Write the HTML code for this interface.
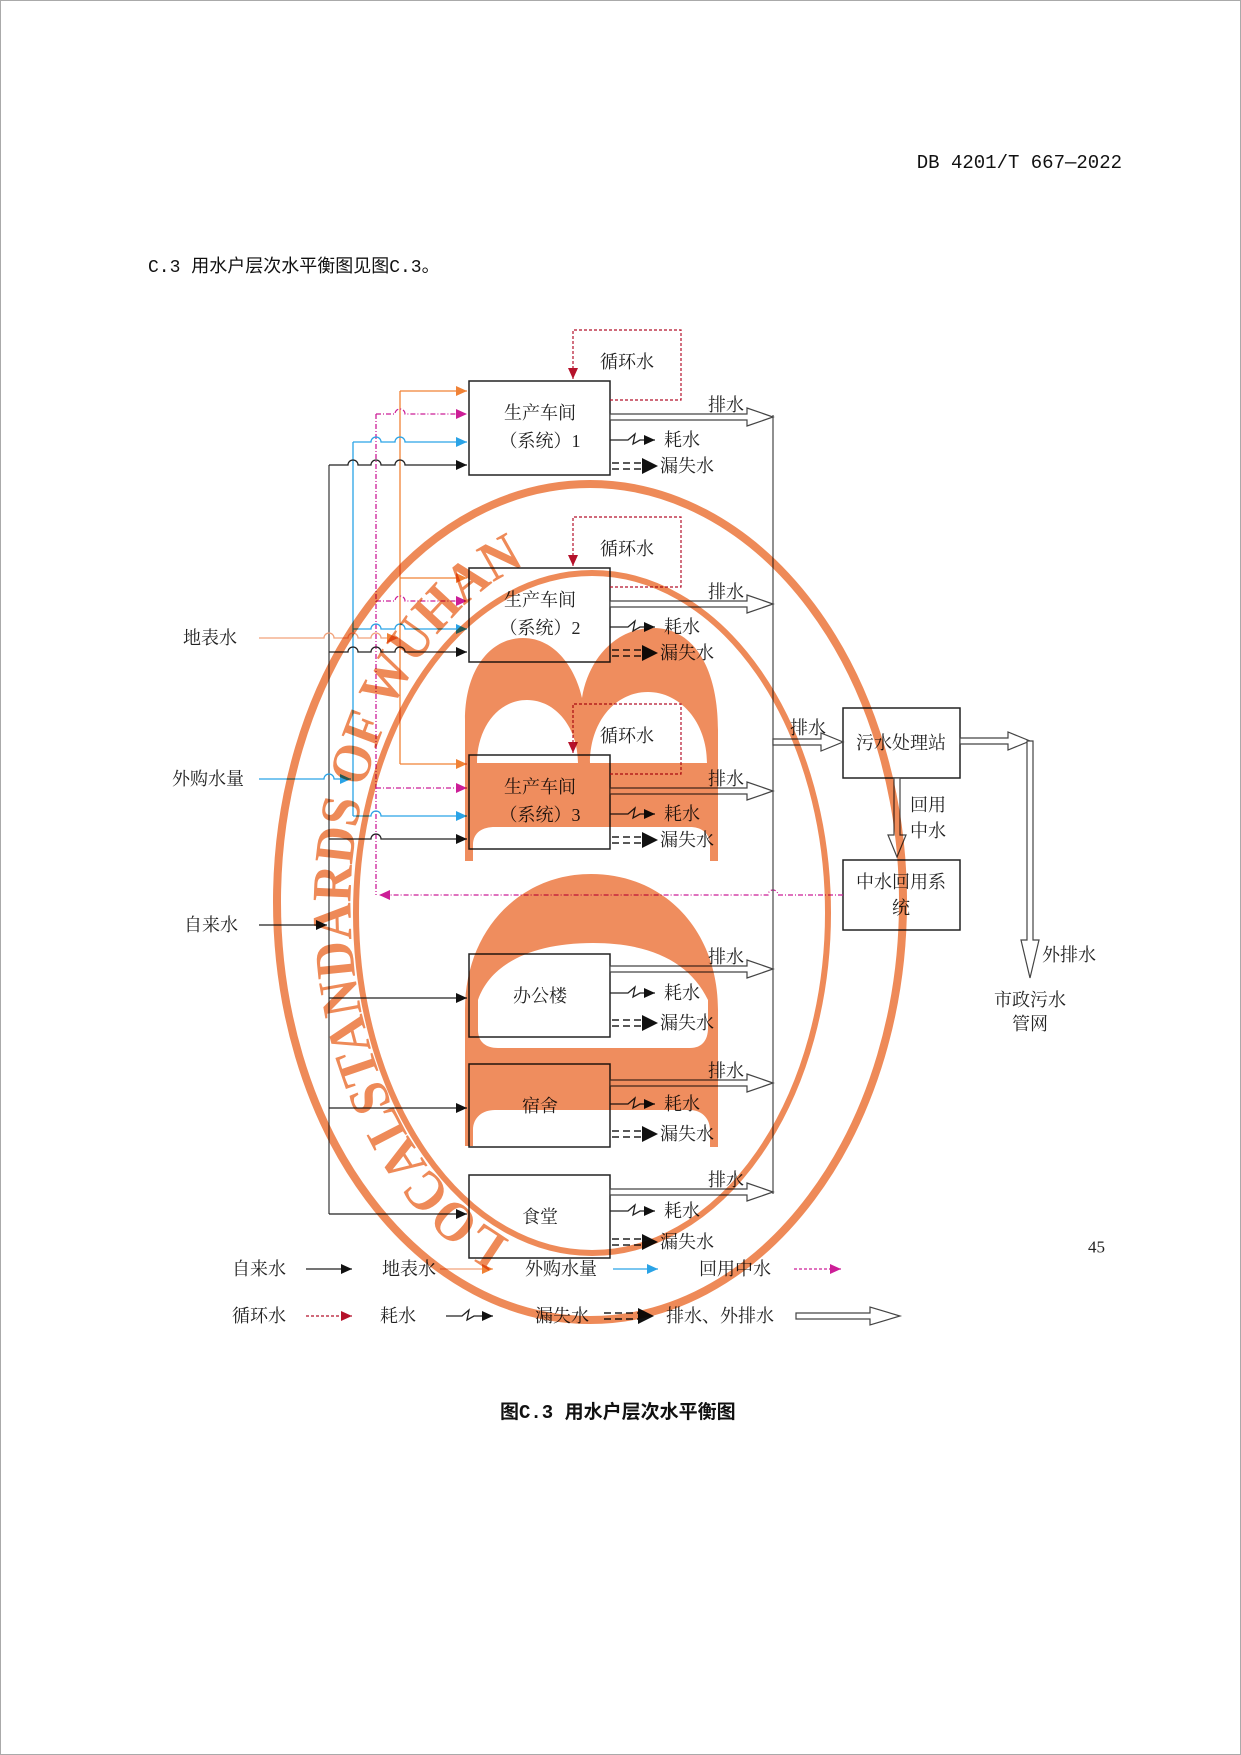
<!DOCTYPE html>
<html><head><meta charset="utf-8">
<style>
html,body{margin:0;padding:0;background:#fff;}
svg{display:block;}
.t{font-family:"Liberation Serif","Noto Serif CJK SC",serif;font-size:18px;fill:#222;dominant-baseline:central;}
</style></head>
<body>
<svg width="1241" height="1755" viewBox="0 0 1241 1755" xmlns="http://www.w3.org/2000/svg">
<defs>
<marker id="mk" markerUnits="userSpaceOnUse" markerWidth="12" markerHeight="10" refX="11" refY="5" orient="auto"><path d="M0,0 L11,5 L0,10 Z" fill="#111"/></marker>
<marker id="mo" markerUnits="userSpaceOnUse" markerWidth="12" markerHeight="10" refX="11" refY="5" orient="auto"><path d="M0,0 L11,5 L0,10 Z" fill="#F08236"/></marker>
<marker id="mb" markerUnits="userSpaceOnUse" markerWidth="12" markerHeight="10" refX="11" refY="5" orient="auto"><path d="M0,0 L11,5 L0,10 Z" fill="#2AA3E6"/></marker>
<marker id="mm" markerUnits="userSpaceOnUse" markerWidth="12" markerHeight="10" refX="11" refY="5" orient="auto"><path d="M0,0 L11,5 L0,10 Z" fill="#CC1E97"/></marker>
<marker id="mr" markerUnits="userSpaceOnUse" markerWidth="12" markerHeight="10" refX="11" refY="5" orient="auto"><path d="M0,0 L11,5 L0,10 Z" fill="#B5122B"/></marker>
</defs>
<rect x="0.5" y="0.5" width="1240" height="1754" fill="#fff" stroke="#aaa"/>

<text x="1122" y="163" text-anchor="end" style="font-family:'Liberation Mono','Noto Sans CJK SC',monospace;font-size:19px;fill:#111;dominant-baseline:central">DB 4201/T 667—2022</text>
<text x="148" y="268" style="font-family:'Liberation Mono','Noto Sans CJK SC',monospace;font-size:18px;fill:#111;dominant-baseline:central">C.3  用水户层次水平衡图见图C.3。</text>

<g fill="#fff" stroke="#222" stroke-width="1.5">
<rect x="469" y="381" width="141" height="94"/>
<rect x="469" y="568" width="141" height="94"/>
<rect x="469" y="755" width="141" height="94"/>
<rect x="469" y="954" width="141" height="83"/>
<rect x="469" y="1064" width="141" height="83"/>
<rect x="469" y="1175" width="141" height="83"/>
<rect x="843" y="708" width="117" height="70"/>
<rect x="843" y="860" width="117" height="70"/>
</g>
<g class="t" text-anchor="middle">
<text class="t" x="540" y="413">生产车间</text><text class="t" x="540" y="441">（系统）1</text>
<text class="t" x="540" y="600">生产车间</text><text class="t" x="540" y="628">（系统）2</text>
<text class="t" x="540" y="787">生产车间</text><text class="t" x="540" y="815">（系统）3</text>
<text class="t" x="540" y="996">办公楼</text>
<text class="t" x="540" y="1106">宿舍</text>
<text class="t" x="540" y="1217">食堂</text>
<text class="t" x="901" y="743">污水处理站</text>
<text class="t" x="901" y="882">中水回用系</text>
<text class="t" x="901" y="908">统</text>
</g>

<g fill="none" stroke="#B5122B" stroke-width="1.2" stroke-dasharray="3,2">
<path d="M610,400 L681,400 L681,330 L573,330 L573,379" marker-end="url(#mr)"/>
<path d="M610,587 L681,587 L681,517 L573,517 L573,566" marker-end="url(#mr)"/>
<path d="M610,774 L681,774 L681,704 L573,704 L573,753" marker-end="url(#mr)"/>
</g>
<text class="t" x="600" y="362">循环水</text>
<text class="t" x="600" y="549">循环水</text>
<text class="t" x="600" y="736">循环水</text>

<g fill="none" stroke-width="1.3">
<path d="M329,465 L329,1214" stroke="#444"/>
<path d="M353,442 L353,816" stroke="#2AA3E6"/>
<path d="M376,414 L376,895" stroke="#CC1E97" stroke-dasharray="5,2,1,2"/>
<path d="M400,391 L400,764" stroke="#F08236"/>
</g>
<g fill="none" stroke="#F08236" stroke-width="1.3">
<path d="M400,391 L467,391" marker-end="url(#mo)"/>
<path d="M400,578 L467,578" marker-end="url(#mo)"/>
<path d="M400,764 L467,764" marker-end="url(#mo)"/>
<path d="M259,638 L324,638 A5 5 0 0 1 334,638 L348,638 A5 5 0 0 1 358,638 L371,638 A5 5 0 0 1 381,638 L398,638" marker-end="url(#mo)" stroke="#F2A27A"/>
</g>
<g fill="none" stroke="#CC1E97" stroke-width="1.2" stroke-dasharray="5,2,1,2">
<path d="M376,414 L395,414 A5 5 0 0 1 405,414 L467,414" marker-end="url(#mm)"/>
<path d="M376,601 L395,601 A5 5 0 0 1 405,601 L467,601" marker-end="url(#mm)"/>
<path d="M376,788 L467,788" marker-end="url(#mm)"/>
<path d="M843,895 L778,895 A5 5 0 0 0 768,895 L379,895" marker-end="url(#mm)"/>
</g>
<g fill="none" stroke="#2AA3E6" stroke-width="1.3">
<path d="M353,442 L371,442 A5 5 0 0 1 381,442 L395,442 A5 5 0 0 1 405,442 L467,442" marker-end="url(#mb)"/>
<path d="M353,629 L371,629 A5 5 0 0 1 381,629 L395,629 A5 5 0 0 1 405,629 L467,629" marker-end="url(#mb)"/>
<path d="M353,816 L371,816 A5 5 0 0 1 381,816 L467,816" marker-end="url(#mb)"/>
<path d="M259,779 L324,779 A5 5 0 0 1 334,779 L351,779" marker-end="url(#mb)"/>
</g>
<g fill="none" stroke="#222" stroke-width="1.3">
<path d="M329,465 L348,465 A5 5 0 0 1 358,465 L371,465 A5 5 0 0 1 381,465 L395,465 A5 5 0 0 1 405,465 L467,465" marker-end="url(#mk)"/>
<path d="M329,652 L348,652 A5 5 0 0 1 358,652 L371,652 A5 5 0 0 1 381,652 L395,652 A5 5 0 0 1 405,652 L467,652" marker-end="url(#mk)"/>
<path d="M329,839 L371,839 A5 5 0 0 1 381,839 L467,839" marker-end="url(#mk)"/>
<path d="M329,998 L467,998" marker-end="url(#mk)"/>
<path d="M329,1108 L467,1108" marker-end="url(#mk)"/>
<path d="M329,1214 L467,1214" marker-end="url(#mk)"/>
<path d="M259,925 L327,925" marker-end="url(#mk)"/>
<path d="M773,415 L773,1194" stroke="#555"/>
</g>
<text class="t" x="183" y="638">地表水</text>
<text class="t" x="172" y="779">外购水量</text>
<text class="t" x="184" y="925">自来水</text>

<g fill="#fff" stroke="#444" stroke-width="1.2">
<polygon points="610,414 747,414 747,408 773,417 747,426 747,420 610,420"/>
<polygon points="610,601 747,601 747,595 773,604 747,613 747,607 610,607"/>
<polygon points="610,788 747,788 747,782 773,791 747,800 747,794 610,794"/>
<polygon points="610,966 747,966 747,960 773,969 747,978 747,972 610,972"/>
<polygon points="610,1080 747,1080 747,1074 773,1083 747,1092 747,1086 610,1086"/>
<polygon points="610,1189 747,1189 747,1183 773,1192 747,1201 747,1195 610,1195"/>
<polygon points="773,739 821,739 821,733 843,742 821,751 821,745 773,745"/>
<polygon points="960,738 1008,738 1008,732 1030,741 1008,750 1008,744 960,744"/>
<polygon points="1027,741 1033,741 1033,940 1039,940 1030,978 1021,940 1027,940"/>
<polygon points="894,778 900,778 900,835 906,835 897,857 888,835 894,835"/>
<polygon points="796,1313 870,1313 870,1307 900,1316 870,1325 870,1319 796,1319"/>
</g>
<g class="t">
<text class="t" x="708" y="405">排水</text><text class="t" x="708" y="592">排水</text><text class="t" x="708" y="779">排水</text>
<text class="t" x="708" y="957">排水</text><text class="t" x="708" y="1071">排水</text><text class="t" x="708" y="1180">排水</text>
<text class="t" x="790" y="728">排水</text>
<text class="t" x="910" y="805">回用</text><text class="t" x="910" y="831">中水</text>
<text class="t" x="1042" y="955">外排水</text>
<text class="t" x="1030" y="1000" text-anchor="middle">市政污水</text>
<text class="t" x="1030" y="1024" text-anchor="middle">管网</text>
</g>

<g fill="none" stroke="#222" stroke-width="1.3">
<path d="M610,440 L628,440 L635,434 L633,444 L640,440 L655,440" marker-end="url(#mk)"/>
<path d="M610,627 L628,627 L635,621 L633,631 L640,627 L655,627" marker-end="url(#mk)"/>
<path d="M610,814 L628,814 L635,808 L633,818 L640,814 L655,814" marker-end="url(#mk)"/>
<path d="M610,993 L628,993 L635,987 L633,997 L640,993 L655,993" marker-end="url(#mk)"/>
<path d="M610,1104 L628,1104 L635,1098 L633,1108 L640,1104 L655,1104" marker-end="url(#mk)"/>
<path d="M610,1211 L628,1211 L635,1205 L633,1215 L640,1211 L655,1211" marker-end="url(#mk)"/>
<path d="M446,1316 L462,1316 L469,1310 L467,1320 L474,1316 L493,1316" marker-end="url(#mk)"/>
</g>
<g stroke="#222" stroke-width="1.6" stroke-dasharray="7,4" fill="none">
<path d="M612,463 L645,463 M612,469 L645,469"/>
<path d="M612,650 L645,650 M612,656 L645,656"/>
<path d="M612,837 L645,837 M612,843 L645,843"/>
<path d="M612,1020 L645,1020 M612,1026 L645,1026"/>
<path d="M612,1131 L645,1131 M612,1137 L645,1137"/>
<path d="M612,1239 L645,1239 M612,1245 L645,1245"/>
<path d="M604,1313 L640,1313 M604,1319 L640,1319"/>
</g>
<g fill="#111">
<polygon points="642,458 658,466 642,474"/><polygon points="642,645 658,653 642,661"/>
<polygon points="642,832 658,840 642,848"/><polygon points="642,1015 658,1023 642,1031"/>
<polygon points="642,1126 658,1134 642,1142"/><polygon points="642,1234 658,1242 642,1250"/>
<polygon points="638,1308 654,1316 638,1324"/>
</g>
<g class="t">
<text class="t" x="664" y="440">耗水</text><text class="t" x="660" y="466">漏失水</text>
<text class="t" x="664" y="627">耗水</text><text class="t" x="660" y="653">漏失水</text>
<text class="t" x="664" y="814">耗水</text><text class="t" x="660" y="840">漏失水</text>
<text class="t" x="664" y="993">耗水</text><text class="t" x="660" y="1023">漏失水</text>
<text class="t" x="664" y="1104">耗水</text><text class="t" x="660" y="1134">漏失水</text>
<text class="t" x="664" y="1211">耗水</text><text class="t" x="660" y="1242">漏失水</text>
</g>

<g class="t">
<text class="t" x="232" y="1269">自来水</text>
<text class="t" x="382" y="1269">地表水</text>
<text class="t" x="525" y="1269">外购水量</text>
<text class="t" x="699" y="1269">回用中水</text>
<text class="t" x="232" y="1316">循环水</text>
<text class="t" x="380" y="1316">耗水</text>
<text class="t" x="535" y="1316">漏失水</text>
<text class="t" x="666" y="1316">排水、外排水</text>
</g>
<g fill="none" stroke-width="1.3">
<path d="M306,1269 L352,1269" stroke="#222" marker-end="url(#mk)"/>
<path d="M440,1269 L493,1269" stroke="#F2A27A" marker-end="url(#mo)"/>
<path d="M613,1269 L658,1269" stroke="#2AA3E6" marker-end="url(#mb)"/>
<path d="M794,1269 L841,1269" stroke="#CC1E97" stroke-dasharray="3,2" marker-end="url(#mm)"/>
<path d="M306,1316 L352,1316" stroke="#B5122B" stroke-dasharray="3,2" marker-end="url(#mr)"/>
</g>

<text x="500" y="1413" style="font-family:'Liberation Mono','Noto Sans CJK SC',sans-serif;font-size:19px;font-weight:bold;fill:#111;dominant-baseline:central">图C.3  用水户层次水平衡图</text>
<text x="1088" y="1247" style="font-family:'Liberation Serif',serif;font-size:17px;fill:#222;dominant-baseline:central">45</text>

<g style="mix-blend-mode:multiply">
<ellipse cx="590" cy="902" rx="313" ry="418" fill="none" stroke="#EE8A58" stroke-width="8"/>
<ellipse cx="592" cy="913" rx="236" ry="340" fill="none" stroke="#EE8A58" stroke-width="6"/>
<path fill="#EF8D5E" fill-rule="evenodd" d="
M465,861 L465,720 C465,670 490,638 523,638 C556,638 576,670 582,698 C588,660 615,628 653,628 C695,628 718,670 718,730 L718,861 L710,861 L710,845 C710,832 700,827 690,827 L495,827 C483,827 473,832 473,845 L473,861 Z
M477,763 L578,763 C578,728 556,700 527,700 C498,700 477,728 477,763 Z
M590,763 L707,763 C707,722 680,692 648,692 C615,692 590,722 590,763 Z"/>
<path fill="#EF8D5E" fill-rule="evenodd" d="
M465,1146 L465,1010 C465,930 520,874 591,874 C664,874 718,930 718,1010 L718,1147 L710,1147 L710,1130 C710,1117 700,1110 690,1110 L495,1110 C483,1110 473,1117 473,1130 L473,1146 Z
M478,1030 C478,1042 486,1048 498,1048 L690,1048 C702,1048 708,1040 708,1028 L708,1000 C690,962 650,943 593,943 C530,943 490,965 478,1000 Z"/>
<path id="arc" d="M510,1240 A250 358 0 0 1 515,570" fill="none"/>
<text style="font-family:'Liberation Serif',serif;font-size:56px;font-weight:bold;fill:#EE8A58"><textPath href="#arc" textLength="790" lengthAdjust="spacingAndGlyphs">LOCALSTANDARDS OF WUHAN</textPath></text>
</g>
</svg>
</body></html>
